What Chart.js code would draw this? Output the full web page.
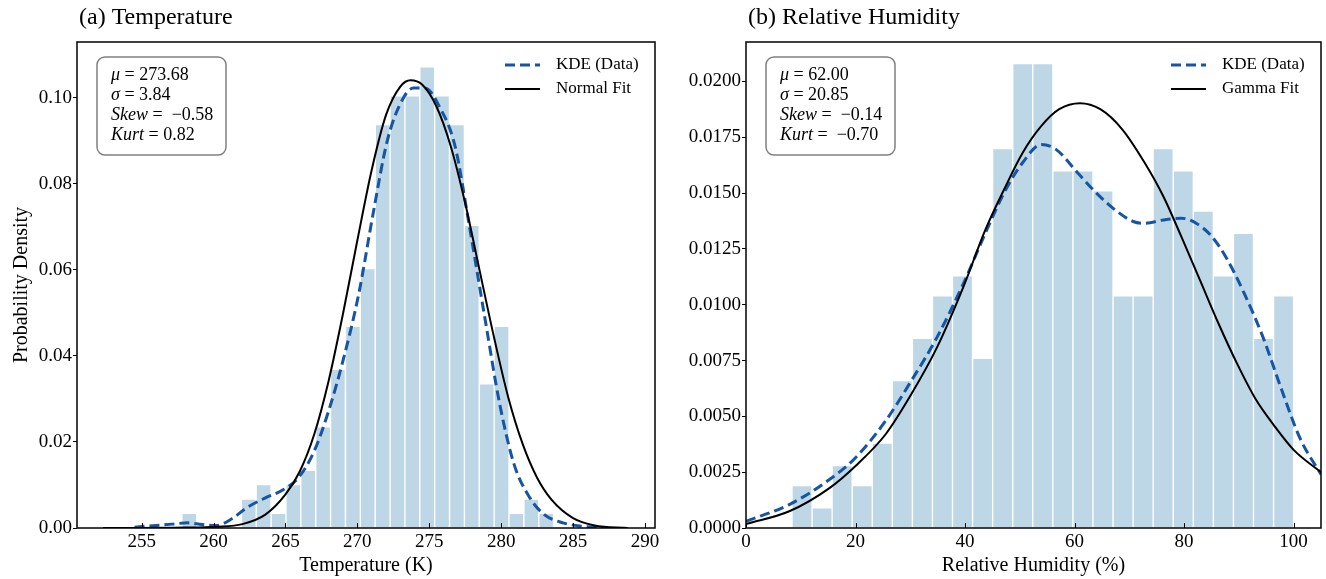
<!DOCTYPE html>
<html>
<head>
<meta charset="utf-8">
<style>
  html, body { margin: 0; padding: 0; background: #fff; }
  #wrap { position: relative; width: 1326px; height: 579px; }
  .pane { position: absolute; top: 0; width: 663px; height: 579px; }
</style>
<script src="https://cdn.jsdelivr.net/npm/chart.js"></script>
</head>
<body>
<div id="wrap">
  <div class="pane" style="left:0"><canvas id="tempChart" width="663" height="579"></canvas></div>
  <div class="pane" style="left:663px"><canvas id="humChart" width="663" height="579"></canvas></div>
</div>
<script>
// ---- (a) temperature: histogram bins (centres, K) and densities ----
const tempBins = [258.31, 259.34, 260.38, 261.41, 262.45, 263.48, 264.52, 265.55, 266.58, 267.62,
  268.65, 269.69, 270.72, 271.76, 272.79, 273.82, 274.86, 275.89, 276.93, 277.96,
  279.00, 280.03, 281.06, 282.10, 283.13];
const tempHist = [0.0034, 0, 0, 0, 0.0067, 0.0101, 0.0034, 0.0101, 0.0134, 0.0235,
  0.0369, 0.0469, 0.0603, 0.0938, 0.1005, 0.1005, 0.1072, 0.1005, 0.0938, 0.0704,
  0.0335, 0.0469, 0.0034, 0.0067, 0.0034];

// KDE curve
const tempKdeX = [254.5, 257.1, 258.2, 259.2, 260.2, 261.3, 262.3, 263.6, 264.9, 265.9, 267.0, 268.0,
  269.0, 270.1, 271.1, 272.1, 273.2, 273.9, 274.7, 275.7, 276.8, 277.8, 278.9, 279.9,
  280.9, 282.0, 283.0, 284.3, 285.6, 287.1];
const tempKdeY = [0.0002, 0.0009, 0.0012, 0.0008, 0.0006, 0.0022, 0.0047, 0.0070, 0.0090, 0.0117, 0.0179, 0.0272,
  0.0389, 0.0545, 0.0732, 0.0903, 0.1000, 0.1023, 0.1023, 0.0980, 0.0887, 0.0700, 0.0482, 0.0288,
  0.0148, 0.0070, 0.0031, 0.0012, 0.0004, 0.0000];

// normal fit curve
const tempFitX = [252.3, 258.0, 260.2, 262.0, 263.6, 265.0, 266.0, 267.0, 268.0, 269.0, 270.0, 271.0,
  272.0, 273.0, 273.7, 274.5, 275.5, 276.5, 277.5, 278.5, 279.5, 280.5, 281.5, 282.5,
  283.5, 285.0, 286.5, 288.8];
const tempFitY = [0.0000, 0.0001, 0.0003, 0.0009, 0.0031, 0.0078, 0.0132, 0.0218, 0.0342, 0.0498, 0.0669, 0.0833,
  0.0961, 0.1027, 0.1041, 0.1031, 0.0980, 0.0887, 0.0755, 0.0599, 0.0444, 0.0303, 0.0195, 0.0117,
  0.0066, 0.0023, 0.0006, 0.0000];

const tempStats = [
  [{ t: 'μ', it: true }, { t: ' = 273.68' }],
  [{ t: 'σ', it: true }, { t: ' = 3.84' }],
  [{ t: 'Skew', it: true }, { t: ' =  −0.58' }],
  [{ t: 'Kurt', it: true }, { t: ' = 0.82' }]
];

// ---- (b) relative humidity ----
const humBins = [10.23, 13.90, 17.56, 21.23, 24.89, 28.55, 32.22, 35.88, 39.54, 43.21,
  46.87, 50.54, 54.20, 57.86, 61.53, 65.19, 68.86, 72.52, 76.18, 79.85,
  83.51, 87.18, 90.84, 94.50, 98.17];
const humHist = [0.0019, 0.0009, 0.0028, 0.0019, 0.0038, 0.0066, 0.0085, 0.0104, 0.0113, 0.0076,
  0.0170, 0.0208, 0.0208, 0.0160, 0.0160, 0.0151, 0.0104, 0.0104, 0.0170, 0.0160,
  0.0142, 0.0113, 0.0132, 0.0085, 0.0104];

const humKdeX = [0, 7.9, 15.3, 20.0, 25.5, 30.2, 34.9, 39.7, 43.7, 47.1, 50.5, 53.9, 56.6, 60.6,
  64.0, 67.4, 70.7, 72.8, 76.2, 79.5, 82.2, 84.9, 87.6, 91.0, 94.4, 97.8, 101.2, 105];
const humKdeY = [0.0003, 0.00105, 0.00218, 0.00315, 0.0048, 0.0066, 0.00855, 0.01095, 0.0132, 0.0150, 0.01636, 0.01718, 0.01696, 0.0159,
  0.0150, 0.01425, 0.01373, 0.01365, 0.0138, 0.01388, 0.01365, 0.0131, 0.01215, 0.0105, 0.00855, 0.0062, 0.0040, 0.0024];

const humFitX = [0, 7.9, 15.3, 20.0, 25.5, 30.2, 34.9, 39.7, 43.7, 47.1, 50.5, 53.9, 57.2, 61.0,
  64.7, 68.7, 72.8, 76.2, 79.5, 82.9, 86.3, 89.7, 93.0, 96.4, 100.0, 105];
const humFitY = [0.00018, 0.00075, 0.0018, 0.00278, 0.0042, 0.0060, 0.0081, 0.0108, 0.01335, 0.01515, 0.0168, 0.0180, 0.01876, 0.01903,
  0.01876, 0.01786, 0.01636, 0.01486, 0.01305, 0.0111, 0.00915, 0.00735, 0.0058, 0.0046, 0.0035, 0.0025];

const humStats = [
  [{ t: 'μ', it: true }, { t: ' = 62.00' }],
  [{ t: 'σ', it: true }, { t: ' = 20.85' }],
  [{ t: 'Skew', it: true }, { t: ' =  −0.14' }],
  [{ t: 'Kurt', it: true }, { t: ' =  −0.70' }]
];

const SERIF = "'Liberation Serif', 'Times New Roman', 'DejaVu Serif', serif";
const BAR_COLOR = '#bed7e7';
const KDE_COLOR = '#1555a2';

function pts(xs, ys) {
  return xs.map((x, i) => ({ x: x, y: ys[i] }));
}

function makeChart(id, cfg) {
  const decor = {
    id: 'decor',
    afterDatasetsDraw(chart) {
      const ctx = chart.ctx, a = chart.chartArea, xs = chart.scales.x;
      ctx.save();
      // inward x ticks
      ctx.strokeStyle = '#000';
      ctx.lineWidth = 1;
      xs.ticks.forEach(t => {
        const px = Math.round(xs.getPixelForValue(t.value)) + 0.5;
        ctx.beginPath();
        ctx.moveTo(px, a.bottom);
        ctx.lineTo(px, a.bottom - 5);
        ctx.stroke();
      });
      // frame
      ctx.lineWidth = 1.5;
      ctx.strokeRect(a.left, a.top, a.right - a.left, a.bottom - a.top);

      // stats box
      const bx = a.left + 20, by = a.top + 15, bw = 129, bh = 98;
      ctx.beginPath();
      ctx.roundRect(bx, by, bw, bh, 8);
      ctx.fillStyle = '#fff';
      ctx.fill();
      ctx.strokeStyle = '#808080';
      ctx.lineWidth = 1.5;
      ctx.stroke();
      ctx.fillStyle = '#000';
      ctx.textBaseline = 'middle';
      cfg.stats.forEach((line, i) => {
        let x = bx + 14;
        const y = by + 18 + i * 20;
        line.forEach(seg => {
          ctx.font = (seg.it ? 'italic ' : '') + '18px ' + SERIF;
          ctx.fillText(seg.t, x, y);
          x += ctx.measureText(seg.t).width;
        });
      });

      // legend
      const lx = a.right - 150, ly = a.top + 23;
      chart.data.datasets.filter(d => d.type === 'line').forEach((d, i) => {
        const y = ly + i * 24;
        ctx.beginPath();
        ctx.setLineDash(d.borderDash || []);
        ctx.strokeStyle = d.borderColor;
        ctx.lineWidth = d.borderWidth;
        ctx.moveTo(lx, y);
        ctx.lineTo(lx + 35, y);
        ctx.stroke();
        ctx.setLineDash([]);
        ctx.fillStyle = '#000';
        ctx.font = '17px ' + SERIF;
        ctx.fillText(d.label, lx + 51, y);
      });

      // panel title
      ctx.font = '24px ' + SERIF;
      ctx.textBaseline = 'middle';
      ctx.fillText(cfg.title, a.left + 2, 18);
      ctx.restore();
    }
  };

  return new Chart(document.getElementById(id), {
    type: 'bar',
    data: {
      datasets: [
        {
          type: 'bar',
          data: pts(cfg.bins, cfg.hist),
          backgroundColor: BAR_COLOR,
          borderColor: '#ffffff',
          borderWidth: 1,
          barPercentage: 1,
          categoryPercentage: 1,
          order: 3
        },
        {
          type: 'line',
          label: 'KDE (Data)',
          data: pts(cfg.kdeX, cfg.kdeY),
          borderColor: KDE_COLOR,
          borderWidth: 3,
          borderDash: [10, 5],
          pointRadius: 0,
          cubicInterpolationMode: 'monotone',
          order: 2
        },
        {
          type: 'line',
          label: cfg.fitLabel,
          data: pts(cfg.fitX, cfg.fitY),
          borderColor: '#000000',
          borderWidth: 2,
          pointRadius: 0,
          cubicInterpolationMode: 'monotone',
          order: 1
        }
      ]
    },
    options: {
      responsive: false,
      animation: false,
      layout: { padding: { top: 42, right: cfg.padRight, left: 0, bottom: 0 } },
      plugins: { legend: { display: false }, tooltip: { enabled: false } },
      scales: {
        x: {
          type: 'linear',
          min: cfg.xMin,
          max: cfg.xMax,
          offset: false,
          grid: { display: false, drawTicks: false },
          border: { display: false },
          ticks: {
            stepSize: cfg.xStep,
            includeBounds: false,
            maxRotation: 0,
            padding: 3,
            color: '#000',
            font: { family: SERIF, size: 19 },
            callback: v => String(v)
          },
          title: {
            display: true,
            text: cfg.xTitle,
            color: '#000',
            font: { family: SERIF, size: 20 },
            padding: { top: 0, bottom: 1 }
          },
          afterFit: s => { s.height = 51; }
        },
        y: {
          min: 0,
          max: cfg.yMax,
          grid: { drawOnChartArea: false, tickLength: 4, color: '#000', lineWidth: 1 },
          border: { display: false },
          ticks: {
            stepSize: cfg.yStep,
            includeBounds: false,
            padding: 1,
            color: '#000',
            font: { family: SERIF, size: 19 },
            callback: v => v.toFixed(cfg.yDec)
          },
          title: {
            display: !!cfg.yTitle,
            text: cfg.yTitle || '',
            color: '#000',
            font: { family: SERIF, size: 20 },
            padding: { top: 10, bottom: 0 }
          },
          afterFit: s => { s.width = cfg.yWidth; }
        }
      }
    },
    plugins: [decor]
  });
}

makeChart('tempChart', {
  title: '(a) Temperature',
  bins: tempBins, hist: tempHist,
  kdeX: tempKdeX, kdeY: tempKdeY,
  fitX: tempFitX, fitY: tempFitY, fitLabel: 'Normal Fit',
  stats: tempStats,
  xMin: 250.5, xMax: 290.7, xStep: 5, xTitle: 'Temperature (K)',
  yMax: 0.113, yStep: 0.02, yDec: 2, yTitle: 'Probability Density',
  yWidth: 77, padRight: 8
});

makeChart('humChart', {
  title: '(b) Relative Humidity',
  bins: humBins, hist: humHist,
  kdeX: humKdeX, kdeY: humKdeY,
  fitX: humFitX, fitY: humFitY, fitLabel: 'Gamma Fit',
  stats: humStats,
  xMin: 0, xMax: 105, xStep: 20, xTitle: 'Relative Humidity (%)',
  yMax: 0.02177, yStep: 0.0025, yDec: 4, yTitle: '',
  yWidth: 83, padRight: 5
});
</script>
</body>
</html>
